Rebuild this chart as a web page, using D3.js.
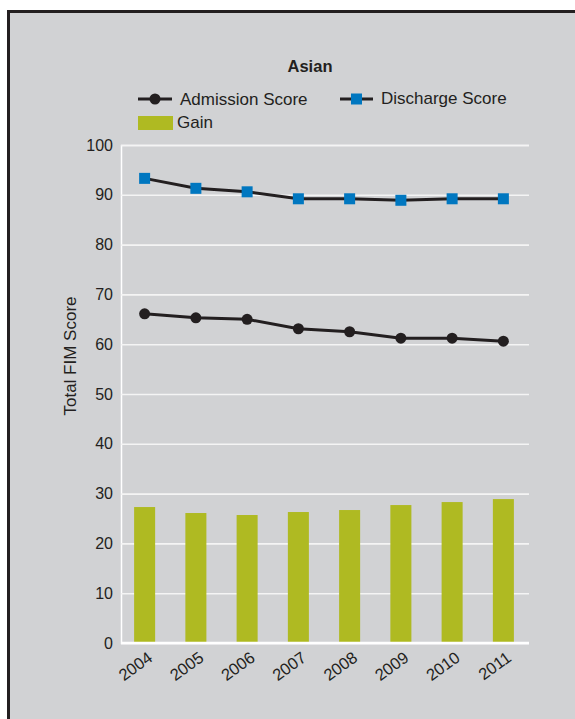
<!DOCTYPE html>
<html>
<head>
<meta charset="utf-8">
<script src="https://cdn.jsdelivr.net/npm/d3@7"></script>
<style>
  html, body { margin: 0; padding: 0; background: #fff; }
  svg { display: block; font-family: "Liberation Sans", Arial, Helvetica, sans-serif; }
</style>
</head>
<body>
<svg id="chart" width="575" height="719"></svg>
<script>
// Total FIM scores by year, Asian patients
const years = ["2004", "2005", "2006", "2007", "2008", "2009", "2010", "2011"];
const admissionScore = [66.1, 65.3, 65.0, 63.1, 62.5, 61.2, 61.2, 60.6];
const dischargeScore = [93.3, 91.3, 90.6, 89.2, 89.2, 88.9, 89.2, 89.2];
const gain = [27.3, 26.1, 25.7, 26.3, 26.7, 27.7, 28.3, 28.9];
const yTicks = [0, 10, 20, 30, 40, 50, 60, 70, 80, 90, 100];

const svg = d3.select("#chart");
const ink = "#231f20";
const blue = "#0077c0";
const olive = "#afba22";

// panel background with dark top/left frame
svg.append("rect").attr("x", 7).attr("y", 10).attr("width", 568).attr("height", 709).attr("fill", "#d1d2d4");
svg.append("rect").attr("x", 7).attr("y", 10).attr("width", 568).attr("height", 3).attr("fill", ink);
svg.append("rect").attr("x", 7).attr("y", 10).attr("width", 3).attr("height", 709).attr("fill", ink);

const plot = { left: 121, right: 529, top: 145, bottom: 643 };

const x = d3.scaleBand().domain(years).range([119, 529]).paddingInner(0.59).paddingOuter(0.295);
const y = d3.scaleLinear().domain([0, 100]).range([plot.bottom, plot.top]);

// gridlines and value labels
const yAxis = d3.axisLeft(y).tickValues(yTicks).tickSize(-(plot.right - plot.left)).tickPadding(8);
const gy = svg.append("g").attr("transform", `translate(${plot.left},0)`).call(yAxis);
gy.select(".domain").attr("stroke", "#fff").attr("stroke-width", 1.5);
gy.selectAll(".tick line").attr("stroke", "#f4f4f4").attr("stroke-width", 1.6);
gy.selectAll(".tick text").attr("fill", ink).attr("font-size", 16);

// gain bars
svg.append("g").selectAll("rect")
  .data(years)
  .join("rect")
  .attr("x", d => x(d))
  .attr("width", x.bandwidth())
  .attr("y", (d, i) => y(gain[i]))
  .attr("height", (d, i) => y(0) - y(gain[i]))
  .attr("fill", olive);

// baseline
svg.append("line")
  .attr("x1", plot.left).attr("x2", plot.right)
  .attr("y1", y(0)).attr("y2", y(0))
  .attr("stroke", "#fff").attr("stroke-width", 2.5);

const cx = d => x(d) + x.bandwidth() / 2;
const line = d3.line().x(d => cx(d[0])).y(d => y(d[1]));

// discharge score
svg.append("path")
  .datum(years.map((d, i) => [d, dischargeScore[i]]))
  .attr("d", line).attr("fill", "none").attr("stroke", ink).attr("stroke-width", 3);
svg.append("g").selectAll("rect")
  .data(years)
  .join("rect")
  .attr("x", d => cx(d) - 5.5)
  .attr("y", (d, i) => y(dischargeScore[i]) - 5.5)
  .attr("width", 11).attr("height", 11)
  .attr("fill", blue);

// admission score
svg.append("path")
  .datum(years.map((d, i) => [d, admissionScore[i]]))
  .attr("d", line).attr("fill", "none").attr("stroke", ink).attr("stroke-width", 3);
svg.append("g").selectAll("circle")
  .data(years)
  .join("circle")
  .attr("cx", d => cx(d))
  .attr("cy", (d, i) => y(admissionScore[i]))
  .attr("r", 5.5)
  .attr("fill", ink);

// year labels
const gx = svg.append("g").attr("transform", `translate(0,${plot.bottom})`)
  .call(d3.axisBottom(x).tickSize(0).tickPadding(0));
gx.select(".domain").remove();
gx.selectAll(".tick text")
  .attr("fill", ink)
  .attr("font-size", 16.5)
  .attr("text-anchor", "end")
  .attr("dy", 0)
  .attr("transform", "translate(9,17) rotate(-36)");

// axis title
svg.append("text")
  .attr("transform", "translate(76,356) rotate(-90)")
  .attr("text-anchor", "middle")
  .attr("fill", ink)
  .attr("font-size", 17)
  .text("Total FIM Score");

// title
svg.append("text")
  .attr("x", 310).attr("y", 72)
  .attr("text-anchor", "middle")
  .attr("font-weight", "bold")
  .attr("font-size", 16.5)
  .attr("fill", ink)
  .text("Asian");

// legend
const lg = svg.append("g");
lg.append("line").attr("x1", 138).attr("x2", 172).attr("y1", 99).attr("y2", 99).attr("stroke", ink).attr("stroke-width", 3);
lg.append("circle").attr("cx", 155).attr("cy", 99).attr("r", 5.5).attr("fill", ink);
lg.append("text").attr("x", 180).attr("y", 104.5).attr("font-size", 17).attr("fill", ink).text("Admission Score");

lg.append("line").attr("x1", 340).attr("x2", 373).attr("y1", 99).attr("y2", 99).attr("stroke", ink).attr("stroke-width", 3);
lg.append("rect").attr("x", 351).attr("y", 93.5).attr("width", 11).attr("height", 11).attr("fill", blue);
lg.append("text").attr("x", 381).attr("y", 104).attr("font-size", 17).attr("fill", ink).text("Discharge Score");

lg.append("rect").attr("x", 138).attr("y", 116).attr("width", 35).attr("height", 14).attr("fill", olive);
lg.append("text").attr("x", 177).attr("y", 127.5).attr("font-size", 17).attr("fill", ink).text("Gain");
</script>
</body>
</html>
